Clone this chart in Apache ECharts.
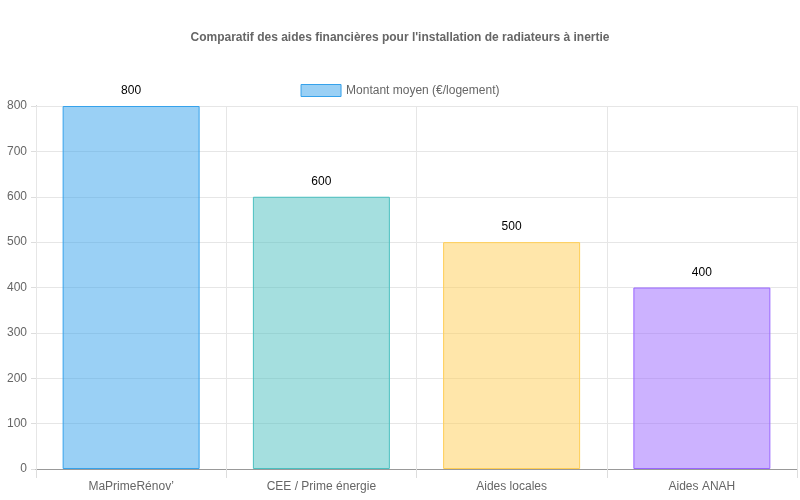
<!DOCTYPE html>
<html>
<head>
<meta charset="utf-8">
<script src="https://cdn.jsdelivr.net/npm/echarts@6/dist/echarts.min.js"></script>
<style>
  html, body { margin: 0; padding: 0; background: #fff; }
  #chart { width: 800px; height: 500px; }
</style>
</head>
<body>
<div id="chart"></div>
<script>
// Data
var categories = ['MaPrimeRénov\u2019', 'CEE / Prime énergie', 'Aides locales', 'Aides ANAH'];
var montants = [800, 600, 500, 400];
var seriesName = 'Montant moyen (€/logement)';
var fills = ['rgba(54,162,235,0.5)', 'rgba(75,192,192,0.5)', 'rgba(255,206,86,0.5)', 'rgba(153,102,255,0.5)'];
var borders = ['rgb(54,162,235)', 'rgb(75,192,192)', 'rgb(255,206,86)', 'rgb(153,102,255)'];

var font = 'Liberation Sans, Arial, sans-serif';

var chart = echarts.init(document.getElementById('chart'));

chart.setOption({
    animation: false,
    textStyle: { fontFamily: font },

    // Title
    title: {
        text: 'Comparatif des aides financières pour l\'installation de radiateurs à inertie',
        left: 'center',
        top: 27,
        textStyle: { fontSize: 12, fontWeight: 'bold', color: '#666', fontFamily: font }
    },

    // Legend
    legend: {
        data: [seriesName],
        top: 79,
        left: 'center',
        icon: 'rect',
        itemWidth: 40,
        itemHeight: 12,
        itemGap: 10,
        textStyle: { fontSize: 12, color: '#666', fontFamily: font },
        itemStyle: { color: fills[0], borderColor: borders[0], borderWidth: 1 }
    },

    grid: { left: 36, right: 3, top: 106, bottom: 31 },

    // Horizontal axis
    xAxis: {
        type: 'category',
        data: categories,
        z: 3,
        axisLine: { lineStyle: { color: '#999' } },
        axisTick: { show: true, length: 9, lineStyle: { color: '#ddd' } },
        axisLabel: { color: '#666', fontSize: 12, margin: 12 },
        splitLine: { show: true, lineStyle: { color: '#e6e6e6' } }
    },

    // Vertical axis
    yAxis: {
        type: 'value',
        min: 0,
        max: 800,
        interval: 100,
        axisLine: { show: true, lineStyle: { color: '#999' } },
        axisTick: { show: true, length: 5, lineStyle: { color: '#ddd' } },
        axisLabel: { color: '#666', fontSize: 12, margin: 9 },
        splitLine: { lineStyle: { color: '#e6e6e6' } }
    },

    series: [{
        name: seriesName,
        type: 'bar',
        barWidth: '72%',
        data: montants.map(function (v, i) {
            return { value: v, itemStyle: { color: fills[i], borderColor: borders[i], borderWidth: 1 } };
        }),
        label: {
            show: true,
            position: 'top',
            distance: 9,
            color: '#000',
            fontSize: 12,
            fontFamily: font
        }
    }]
});
</script>
</body>
</html>
